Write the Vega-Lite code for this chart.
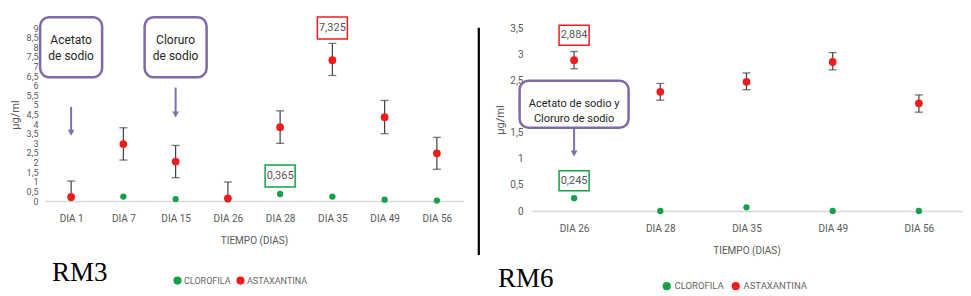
{
  "$schema": "https://vega.github.io/schema/vega-lite/v6.json",
  "background": "white",
  "padding": {"left": 9, "top": 15, "right": 5, "bottom": 5},
  "config": {
    "view": {"stroke": null},
    "font": "Roboto, Liberation Sans, sans-serif",
    "axis": {"labelColor": "#595959", "titleColor": "#595959", "labelFontSize": 10, "titleFontSize": 10, "titleFontWeight": "normal", "grid": false, "ticks": false, "labelFont": "Roboto, Liberation Sans, sans-serif", "titleFont": "Roboto, Liberation Sans, sans-serif"},
    "legend": {"labelFont": "Roboto, Liberation Sans, sans-serif"}
  },
  "datasets": {
    "rm3": [
      {"dia": "DIA 1", "pigmento": "CLOROFILA", "valor": 0.15, "low": null, "high": null},
      {"dia": "DIA 7", "pigmento": "CLOROFILA", "valor": 0.23, "low": null, "high": null},
      {"dia": "DIA 15", "pigmento": "CLOROFILA", "valor": 0.1, "low": null, "high": null},
      {"dia": "DIA 26", "pigmento": "CLOROFILA", "valor": 0.08, "low": null, "high": null},
      {"dia": "DIA 28", "pigmento": "CLOROFILA", "valor": 0.365, "low": null, "high": null},
      {"dia": "DIA 35", "pigmento": "CLOROFILA", "valor": 0.23, "low": null, "high": null},
      {"dia": "DIA 49", "pigmento": "CLOROFILA", "valor": 0.07, "low": null, "high": null},
      {"dia": "DIA 56", "pigmento": "CLOROFILA", "valor": 0.02, "low": null, "high": null},
      {"dia": "DIA 1", "pigmento": "ASTAXANTINA", "valor": 0.21, "low": -0.62, "high": 1.04},
      {"dia": "DIA 7", "pigmento": "ASTAXANTINA", "valor": 2.96, "low": 2.13, "high": 3.81},
      {"dia": "DIA 15", "pigmento": "ASTAXANTINA", "valor": 2.05, "low": 1.21, "high": 2.89},
      {"dia": "DIA 26", "pigmento": "ASTAXANTINA", "valor": 0.14, "low": -0.7, "high": 0.99},
      {"dia": "DIA 28", "pigmento": "ASTAXANTINA", "valor": 3.84, "low": 3.0, "high": 4.69},
      {"dia": "DIA 35", "pigmento": "ASTAXANTINA", "valor": 7.325, "low": 6.53, "high": 8.2},
      {"dia": "DIA 49", "pigmento": "ASTAXANTINA", "valor": 4.36, "low": 3.5, "high": 5.23},
      {"dia": "DIA 56", "pigmento": "ASTAXANTINA", "valor": 2.48, "low": 1.65, "high": 3.31}
    ],
    "rm6": [
      {"dia": "DIA 26", "pigmento": "CLOROFILA", "valor": 0.245, "low": null, "high": null},
      {"dia": "DIA 28", "pigmento": "CLOROFILA", "valor": 0.0, "low": null, "high": null},
      {"dia": "DIA 35", "pigmento": "CLOROFILA", "valor": 0.07, "low": null, "high": null},
      {"dia": "DIA 49", "pigmento": "CLOROFILA", "valor": 0.0, "low": null, "high": null},
      {"dia": "DIA 56", "pigmento": "CLOROFILA", "valor": 0.0, "low": null, "high": null},
      {"dia": "DIA 26", "pigmento": "ASTAXANTINA", "valor": 2.884, "low": 2.72, "high": 3.05},
      {"dia": "DIA 28", "pigmento": "ASTAXANTINA", "valor": 2.28, "low": 2.12, "high": 2.44},
      {"dia": "DIA 35", "pigmento": "ASTAXANTINA", "valor": 2.47, "low": 2.32, "high": 2.64},
      {"dia": "DIA 49", "pigmento": "ASTAXANTINA", "valor": 2.85, "low": 2.7, "high": 3.03},
      {"dia": "DIA 56", "pigmento": "ASTAXANTINA", "valor": 2.06, "low": 1.89, "high": 2.22}
    ],
    "etiquetas3": [
      {"dia": "DIA 35", "pigmento": "ASTAXANTINA", "y": 9.0, "texto": "7,325"},
      {"dia": "DIA 28", "pigmento": "CLOROFILA", "y": 1.3, "texto": "0,365"}
    ],
    "etiquetas6": [
      {"dia": "DIA 26", "pigmento": "ASTAXANTINA", "y": 3.36, "texto": "2,884"},
      {"dia": "DIA 26", "pigmento": "CLOROFILA", "y": 0.58, "texto": "0,245"}
    ],
    "notas3": [
      {"dia": "DIA 1", "y": 8.0, "texto": "Acetato\nde sodio"},
      {"dia": "DIA 15", "y": 8.0, "texto": "Cloruro\nde sodio"}
    ],
    "notas6": [
      {"dia": "DIA 26", "y": 2.04, "texto": "Acetato de sodio y\nCloruro de sodio"}
    ],
    "flechas3": [
      {"dia": "DIA 1", "y1": 4.9, "y2": 3.55},
      {"dia": "DIA 15", "y1": 5.9, "y2": 4.5}
    ],
    "flechas6": [
      {"dia": "DIA 26", "y1": 1.59, "y2": 1.1}
    ]
  },
  "spacing": 12,
  "resolve": {
    "scale": {"x": "independent", "y": "independent", "color": "independent", "stroke": "independent"},
    "legend": {"color": "independent"}
  },
  "hconcat": [
    {
      "width": 418,
      "height": 173,
      "encoding": {
        "x": {"field": "dia", "type": "ordinal", "scale": {"type": "point", "padding": 0.5, "domain": ["DIA 1", "DIA 7", "DIA 15", "DIA 26", "DIA 28", "DIA 35", "DIA 49", "DIA 56"]}, "axis": {"title": "TIEMPO (DIAS)", "labelAngle": 0, "domainColor": "#d9d9d9", "domainWidth": 1.5, "labelPadding": 12, "titlePadding": 12}}
      },
      "layer": [
        {
          "data": {"name": "rm3"},
          "mark": {"type": "circle", "opacity": 0},
          "encoding": {"y": {"field": "valor", "type": "quantitative", "scale": {"domain": [0, 9]}, "axis": {"title": "µg/ml", "tickCount": 18, "labelExpr": "replace(toString(datum.value), '.', ',')", "labelOverlap": false, "domain": false, "labelFontSize": 9, "labelPadding": 7, "titlePadding": 6, "titleFontSize": 11}}}
        },
        {
          "data": {"name": "flechas3"},
          "mark": {"type": "rule", "color": "#7f70ad", "strokeWidth": 2},
          "encoding": {"y": {"field": "y1", "type": "quantitative"}, "y2": {"field": "y2"}}
        },
        {
          "data": {"name": "flechas3"},
          "mark": {"type": "point", "shape": "triangle-down", "filled": true, "color": "#7f70ad", "size": 45, "opacity": 1},
          "encoding": {"y": {"field": "y2", "type": "quantitative"}}
        },
        {
          "data": {"name": "rm3"},
          "transform": [{"filter": "datum.pigmento == 'ASTAXANTINA'"}],
          "mark": {"type": "rule", "color": "#404040", "strokeWidth": 1.2, "clip": true},
          "encoding": {"y": {"field": "low", "type": "quantitative"}, "y2": {"field": "high"}}
        },
        {
          "data": {"name": "rm3"},
          "transform": [{"filter": "datum.pigmento == 'ASTAXANTINA'"}],
          "mark": {"type": "tick", "color": "#404040", "size": 8, "thickness": 1.3, "clip": true},
          "encoding": {"y": {"field": "low", "type": "quantitative"}}
        },
        {
          "data": {"name": "rm3"},
          "transform": [{"filter": "datum.pigmento == 'ASTAXANTINA'"}],
          "mark": {"type": "tick", "color": "#404040", "size": 8, "thickness": 1.3, "clip": true},
          "encoding": {"y": {"field": "high", "type": "quantitative"}}
        },
        {
          "data": {"name": "rm3"},
          "mark": {"type": "circle", "opacity": 1},
          "encoding": {
            "y": {"field": "valor", "type": "quantitative"},
            "color": {"field": "pigmento", "type": "nominal", "scale": {"domain": ["CLOROFILA", "ASTAXANTINA"], "range": ["#16a04a", "#ee1c1c"]},
              "legend": {"title": "RM3", "orient": "none", "legendX": 7, "legendY": 248, "direction": "horizontal", "titleOrient": "left", "titleBaseline": "alphabetic", "titleFont": "Liberation Serif", "titleFontSize": 27, "titleFontWeight": "normal", "titleColor": "#000000", "titlePadding": 65, "labelFontSize": 9, "labelColor": "#666666", "symbolSize": 45, "symbolType": "circle", "columnPadding": 3, "labelOffset": 2}},
            "size": {"condition": {"test": "datum.pigmento == 'ASTAXANTINA'", "value": 60}, "value": 40}
          }
        },
        {
          "data": {"name": "notas3"},
          "mark": {"type": "rect", "width": 62, "height": 60, "cornerRadius": 9, "fill": "white", "stroke": "#7e6aa8", "strokeWidth": 2.5},
          "encoding": {"y": {"field": "y", "type": "quantitative"}}
        },
        {
          "data": {"name": "notas3"},
          "mark": {"type": "text", "lineBreak": "\n", "fontSize": 12, "color": "#262626", "dy": -7, "lineHeight": 16},
          "encoding": {"y": {"field": "y", "type": "quantitative"}, "text": {"field": "texto"}}
        },
        {
          "data": {"name": "etiquetas3"},
          "mark": {"type": "rect", "width": 30, "height": 22, "fill": "white", "strokeWidth": 1.5},
          "encoding": {"y": {"field": "y", "type": "quantitative"}, "stroke": {"field": "pigmento", "type": "nominal", "scale": {"domain": ["CLOROFILA", "ASTAXANTINA"], "range": ["#16a04a", "#ee1c1c"]}, "legend": null}}
        },
        {
          "data": {"name": "etiquetas3"},
          "mark": {"type": "text", "fontSize": 11, "color": "#555555"},
          "encoding": {"y": {"field": "y", "type": "quantitative"}, "text": {"field": "texto"}}
        }
      ]
    },
    {
      "width": 1,
      "height": 226,
      "data": {"values": [{}]},
      "mark": {"type": "point", "opacity": 0},
      "encoding": {},
      "view": {"stroke": "#000000", "strokeWidth": 1.2}
    },
    {
      "width": 431,
      "height": 183,
      "encoding": {
        "x": {"field": "dia", "type": "ordinal", "scale": {"type": "point", "padding": 0.5, "domain": ["DIA 26", "DIA 28", "DIA 35", "DIA 49", "DIA 56"]}, "axis": {"title": "TIEMPO (DIAS)", "labelAngle": 0, "domainColor": "#d9d9d9", "domainWidth": 1.5, "labelPadding": 12, "titlePadding": 12}}
      },
      "layer": [
        {
          "data": {"name": "rm6"},
          "mark": {"type": "circle", "opacity": 0},
          "encoding": {"y": {"field": "valor", "type": "quantitative", "scale": {"domain": [0, 3.5]}, "axis": {"title": "µg/ml", "tickCount": 7, "labelExpr": "replace(toString(datum.value), '.', ',')", "labelOverlap": false, "domain": false, "labelFontSize": 10, "labelPadding": 8, "titlePadding": 4, "titleFontSize": 11}}}
        },
        {
          "data": {"name": "flechas6"},
          "mark": {"type": "rule", "color": "#7f70ad", "strokeWidth": 2},
          "encoding": {"y": {"field": "y1", "type": "quantitative"}, "y2": {"field": "y2"}}
        },
        {
          "data": {"name": "flechas6"},
          "mark": {"type": "point", "shape": "triangle-down", "filled": true, "color": "#7f70ad", "size": 45, "opacity": 1},
          "encoding": {"y": {"field": "y2", "type": "quantitative"}}
        },
        {
          "data": {"name": "rm6"},
          "transform": [{"filter": "datum.pigmento == 'ASTAXANTINA'"}],
          "mark": {"type": "rule", "color": "#404040", "strokeWidth": 1.2},
          "encoding": {"y": {"field": "low", "type": "quantitative"}, "y2": {"field": "high"}}
        },
        {
          "data": {"name": "rm6"},
          "transform": [{"filter": "datum.pigmento == 'ASTAXANTINA'"}],
          "mark": {"type": "tick", "color": "#404040", "size": 8, "thickness": 1.3},
          "encoding": {"y": {"field": "low", "type": "quantitative"}}
        },
        {
          "data": {"name": "rm6"},
          "transform": [{"filter": "datum.pigmento == 'ASTAXANTINA'"}],
          "mark": {"type": "tick", "color": "#404040", "size": 8, "thickness": 1.3},
          "encoding": {"y": {"field": "high", "type": "quantitative"}}
        },
        {
          "data": {"name": "rm6"},
          "mark": {"type": "circle", "opacity": 1},
          "encoding": {
            "y": {"field": "valor", "type": "quantitative"},
            "color": {"field": "pigmento", "type": "nominal", "scale": {"domain": ["CLOROFILA", "ASTAXANTINA"], "range": ["#16a04a", "#ee1c1c"]},
              "legend": {"title": "RM6", "orient": "none", "legendX": -33, "legendY": 253, "direction": "horizontal", "titleOrient": "left", "titleBaseline": "alphabetic", "titleFont": "Liberation Serif", "titleFontSize": 27, "titleFontWeight": "normal", "titleColor": "#000000", "titlePadding": 108, "labelFontSize": 9.5, "labelColor": "#666666", "symbolSize": 45, "symbolType": "circle", "columnPadding": 5, "labelOffset": 3}},
            "size": {"condition": {"test": "datum.pigmento == 'ASTAXANTINA'", "value": 60}, "value": 40}
          }
        },
        {
          "data": {"name": "notas6"},
          "mark": {"type": "rect", "width": 109, "height": 47, "cornerRadius": 9, "fill": "white", "stroke": "#7e6aa8", "strokeWidth": 2.5},
          "encoding": {"y": {"field": "y", "type": "quantitative"}}
        },
        {
          "data": {"name": "notas6"},
          "mark": {"type": "text", "lineBreak": "\n", "fontSize": 11, "color": "#262626", "lineHeight": 15},
          "encoding": {"y": {"field": "y", "type": "quantitative"}, "text": {"field": "texto"}}
        },
        {
          "data": {"name": "etiquetas6"},
          "mark": {"type": "rect", "width": 30, "height": 20, "fill": "white", "strokeWidth": 1.5},
          "encoding": {"y": {"field": "y", "type": "quantitative"}, "stroke": {"field": "pigmento", "type": "nominal", "scale": {"domain": ["CLOROFILA", "ASTAXANTINA"], "range": ["#16a04a", "#ee1c1c"]}, "legend": null}}
        },
        {
          "data": {"name": "etiquetas6"},
          "mark": {"type": "text", "fontSize": 11, "color": "#555555"},
          "encoding": {"y": {"field": "y", "type": "quantitative"}, "text": {"field": "texto"}}
        }
      ]
    }
  ]
}
